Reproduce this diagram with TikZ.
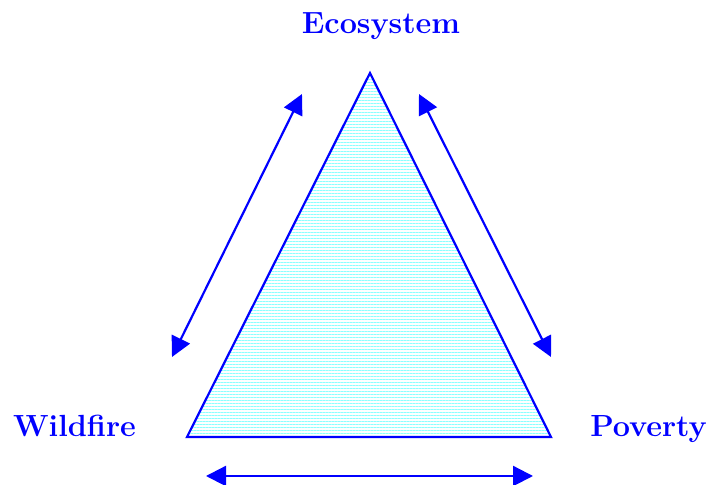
\documentclass[tikz,border=0pt]{standalone}
\usetikzlibrary{arrows.meta,patterns.meta}

\begin{document}
\begin{tikzpicture}[
  x=0.5pt,y=-0.5pt,
  factor/.style={font=\fontsize{15.3}{18}\selectfont\bfseries,text=blue,anchor=base,inner sep=0pt},
  link/.style={blue,line width=1.1pt,{Triangle[length=10pt,width=10pt]}-{Triangle[length=10pt,width=10pt]}}
]
  \useasboundingbox (0,0) rectangle (709,485);

  \coordinate (top) at (370,73);
  \coordinate (left) at (187,437);
  \coordinate (right) at (551,437);

  \node[factor] (eco) at (381,34) {Ecosystem};
  \node[factor] (fire) at (74.5,437) {Wildfire};
  \node[factor] (pov) at (648.5,437) {Poverty};

  \fill[pattern={Lines[angle=0,distance=1.5pt,line width=0.5pt]},pattern color=cyan!45]
    (top) -- (left) -- (right) -- cycle;
  \draw[blue,line width=1.1pt,line join=miter] (top) -- (left) -- (right) -- cycle;

  \coordinate (a1) at (172,357);
  \coordinate (a2) at (302,94);
  \coordinate (b1) at (419,94);
  \coordinate (b2) at (551,357);
  \coordinate (c1) at (206,476);
  \coordinate (c2) at (533,476);

  \draw[link] (a1) -- (a2);
  \draw[link] (b1) -- (b2);
  \draw[link] (c1) -- (c2);
\end{tikzpicture}
\end{document}
